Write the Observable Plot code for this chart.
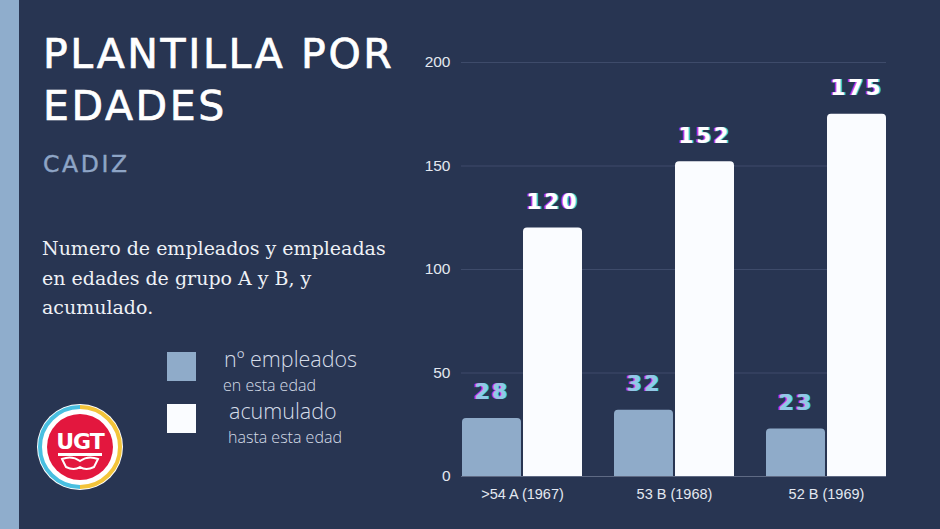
<!DOCTYPE html>
<html><head><meta charset="utf-8">
<script src="https://cdn.jsdelivr.net/npm/d3@7"></script>
<script src="https://cdn.jsdelivr.net/npm/@observablehq/plot@0.6"></script>
<style>
html,body{margin:0;padding:0;background:#283552;width:940px;height:529px;overflow:hidden}
#wrap{position:relative;width:940px;height:529px;background:#283552}
#stripe{position:absolute;left:0;top:0;width:19px;height:529px;background:#8fadcc}
#chart{position:absolute;left:0;top:0}
.t{position:absolute;white-space:nowrap;margin:0}
#title{left:43px;top:28px;font-family:"DejaVu Sans",sans-serif;font-size:41px;line-height:52px;color:#ffffff;letter-spacing:2.6px;-webkit-text-stroke:0.7px #ffffff}
#city{left:43px;top:150px;font-family:"DejaVu Sans",sans-serif;font-size:23.5px;color:#8ea5c6;letter-spacing:2.6px;-webkit-text-stroke:0.4px #8ea5c6}
#desc{left:42px;top:234px;font-family:"DejaVu Serif",serif;font-size:19px;line-height:29.5px;color:#eef1f6}
.sw{position:absolute;width:29px;height:29px}
.lg1{font-family:"Open Sans",sans-serif;font-weight:300;font-size:21.5px;color:#d6dde9}
.lg2{font-family:"Open Sans",sans-serif;font-weight:300;font-size:16px;color:#d6dde9}
#logo{position:absolute;left:36px;top:403px}
</style></head>
<body>
<div id="wrap">
  <div id="stripe"></div>
  <div id="chart"></div>
  <div class="t" id="title">PLANTILLA POR<br>EDADES</div>
  <div class="t" id="city">CADIZ</div>
  <div class="t" id="desc">Numero de empleados y empleadas<br>en edades de grupo A y B, y<br>acumulado.</div>
  <div id="legend"></div>
  <svg id="logo" width="88" height="88" viewBox="0 0 88 88">
    <circle cx="44" cy="44" r="43" fill="#ffffff"/>
    <path d="M44 4 A40 40 0 0 0 44 84" fill="none" stroke="#49bfe0" stroke-width="4"/>
    <path d="M44 4 A40 40 0 0 1 44 84" fill="none" stroke="#f3c43a" stroke-width="4"/>
    <circle cx="44" cy="44" r="36" fill="#ffffff"/>
    <circle cx="44" cy="44" r="33" fill="#e3173e"/>
    <text x="44" y="46" text-anchor="middle" font-family="DejaVu Sans" font-weight="bold" font-size="22" fill="#ffffff" letter-spacing="-1">UGT</text>
    <rect x="22" y="50" width="44" height="3" fill="#ffffff"/>
    <path d="M26 56 Q36 52 44 58 Q52 52 62 56 L58 64 Q50 68 44 64 Q38 68 30 64 Z" fill="none" stroke="#ffffff" stroke-width="2"/>
  </svg>
</div>
<script>
const groups = [">54 A (1967)", "53 B (1968)", "52 B (1969)"];
const series = ["nº empleados", "acumulado"];
const seriesSub = ["en esta edad", "hasta esta edad"];
const empleados = [28, 32, 23];
const acumulado = [120, 152, 175];
const yTicks = [0, 50, 100, 150, 200];
const colors = ["#8fabc9", "#fafcff"];
const labelColors = ["#93c7e6", "#ffffff"];

const rowsE = groups.map((g, i) => ({grupo: g, serie: series[0], valor: empleados[i]}));
const rowsA = groups.map((g, i) => ({grupo: g, serie: series[1], valor: acumulado[i]}));

// layout of the grouped bars (style, not data)
const W = 940, H = 529, mL = 461, mR = 54, mT = 62, mB = 53;
const padInner = 0.213;
const step = (W - mL - mR) / (groups.length - padInner);
const bw = step * (1 - padInner);
const half = bw / 2 + 1;          // each bar takes half of the band, 2px gap
const off = bw / 4 + 0.5;          // label offset from band centre

function labels(rows, side, color) {
  return Plot.text(rows, {x: "grupo", y: "valor", text: d => String(d.valor), dy: -26, dx: side * off,
    fill: color, fontFamily: "DejaVu Sans", fontWeight: "bold", fontSize: 21});
}

const chart = Plot.plot({
  width: W, height: H,
  marginLeft: mL, marginRight: mR, marginTop: mT, marginBottom: mB,
  style: {background: "transparent", color: "#e3e8f0", fontFamily: "'Liberation Sans', Arial, sans-serif", fontSize: "14.5px"},
  x: {domain: groups, paddingInner: padInner, paddingOuter: 0, label: null, tickSize: 0, tickPadding: 12},
  y: {domain: [0, 200], ticks: yTicks, tickSize: 0, tickPadding: 11, label: null},
  marks: [
    Plot.ruleY(yTicks.filter(v => v > 0), {stroke: "#3e4b6a", strokeWidth: 1}),
    Plot.barY(rowsE, {x: "grupo", y: "valor", fill: colors[0], ry1: 4, insetRight: half}),
    Plot.barY(rowsA, {x: "grupo", y: "valor", fill: colors[1], ry1: 4, insetLeft: half}),
    Plot.ruleY([0], {stroke: "#5f6a84"}),
    labels(rowsE, -1, labelColors[0]),
    labels(rowsA, 1, labelColors[1])
  ]
});
d3.select(chart).selectAll('g[aria-label="text"]')
  .style("letter-spacing", "3px")
  .style("text-shadow", "-1.6px 0 #d23ad6, 1.6px 0 #3fd6e6");
d3.select(chart).selectAll('g[aria-label="y-axis tick label"]').style("font-size", "15.5px");
document.getElementById("chart").appendChild(chart);

// legend
const leg = d3.select("#legend");
const legY = [352, 404];
const legX = [224, 229];
series.forEach((s, i) => {
  leg.append("div").attr("class", "sw").style("left", "167px").style("top", legY[i] + "px").style("background", colors[i]);
  leg.append("div").attr("class", "t lg1").style("left", legX[i] + "px").style("top", (legY[i] - 8) + "px").text(s);
  leg.append("div").attr("class", "t lg2").style("left", (legX[i] - 1) + "px").style("top", (legY[i] + 22) + "px").text(seriesSub[i]);
});
</script>
</body></html>
